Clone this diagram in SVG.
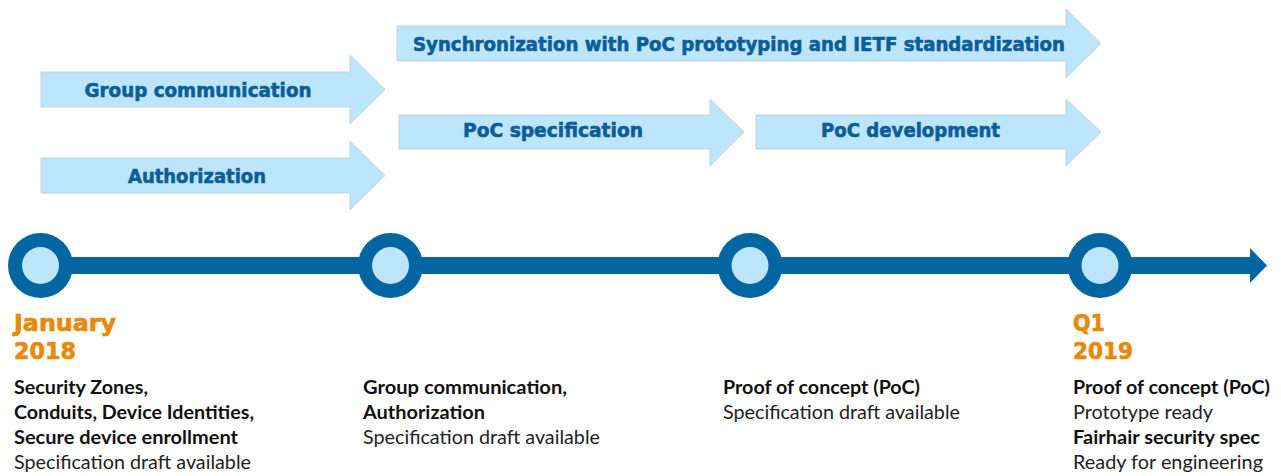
<svg xmlns="http://www.w3.org/2000/svg" width="1281" height="476" viewBox="0 0 1281 476">
<style>
.arr{fill:#bde5fb;stroke:#c3d2dd;stroke-width:1}
.at{font-family:"DejaVu Sans",sans-serif;font-weight:bold;font-size:19px;fill:#0b5e99;stroke:#0b5e99;stroke-width:0.6;text-anchor:middle}
.ring{fill:#0465a3}
.core{fill:#bde5fb}
.date{font-family:"DejaVu Sans",sans-serif;font-weight:bold;font-size:22.5px;fill:#e8890c;stroke:#e8890c;stroke-width:0.7}
.b{font-family:Lato,"Liberation Sans",sans-serif;font-weight:bold;font-size:19px;fill:#111}
.r{font-family:Lato,"Liberation Sans",sans-serif;font-size:19px;fill:#222}
</style>
<rect width="1281" height="476" fill="#fff"/>
<g id="arrow-group-communication">
<path class="arr" d="M41,72H350V55L385,89.5L350,124V107H41Z"/>
<text class="at" x="198" y="97" textLength="227" lengthAdjust="spacingAndGlyphs">Group communication</text>
</g>
<g id="arrow-authorization">
<path class="arr" d="M41,158H350V141L385,175.5L350,210V193H41Z"/>
<text class="at" x="197" y="183" textLength="138" lengthAdjust="spacingAndGlyphs">Authorization</text>
</g>
<g id="arrow-synchronization">
<path class="arr" d="M397,26H1066V9L1101,43.5L1066,78V61H397Z"/>
<text class="at" x="739" y="51" textLength="652" lengthAdjust="spacingAndGlyphs">Synchronization with PoC prototyping and IETF standardization</text>
</g>
<g id="arrow-poc-specification">
<path class="arr" d="M399,115H710V99L744,132L710,166V149H399Z"/>
<text class="at" x="553" y="137" textLength="180" lengthAdjust="spacingAndGlyphs">PoC specification</text>
</g>
<g id="arrow-poc-development">
<path class="arr" d="M756,115H1066V99L1101,132L1066,166V149H756Z"/>
<text class="at" x="910.5" y="137" textLength="179" lengthAdjust="spacingAndGlyphs">PoC development</text>
</g>
<g id="connectors">
<rect x="40" y="257" width="1212" height="17" fill="#0465a3"/>
<path d="M1250,248L1267,265.5L1250,283Z" fill="#0465a3"/>
</g>
<g id="milestone-jan-2018">
<circle class="ring" cx="40.5" cy="265.5" r="32.5"/>
<circle class="core" cx="40.5" cy="265.5" r="18.5"/>
<text class="date" x="14" y="331" textLength="102" lengthAdjust="spacingAndGlyphs">January</text>
<text class="date" x="14" y="359" textLength="62" lengthAdjust="spacingAndGlyphs">2018</text>
<text class="b" x="14" y="394" textLength="134" lengthAdjust="spacingAndGlyphs">Security Zones,</text>
<text class="b" x="14" y="419" textLength="240" lengthAdjust="spacingAndGlyphs">Conduits, Device Identities,</text>
<text class="b" x="14" y="444" textLength="224" lengthAdjust="spacingAndGlyphs">Secure device enrollment</text>
<text class="r" x="14" y="469" textLength="237" lengthAdjust="spacingAndGlyphs">Specification draft available</text>
</g>
<g id="milestone-2">
<circle class="ring" cx="390.5" cy="265.5" r="32.5"/>
<circle class="core" cx="390.5" cy="265.5" r="18.5"/>
<text class="b" x="363" y="394" textLength="204" lengthAdjust="spacingAndGlyphs">Group communication,</text>
<text class="b" x="363" y="419" textLength="122" lengthAdjust="spacingAndGlyphs">Authorization</text>
<text class="r" x="363" y="444" textLength="237" lengthAdjust="spacingAndGlyphs">Specification draft available</text>
</g>
<g id="milestone-3">
<circle class="ring" cx="750" cy="265.5" r="32.5"/>
<circle class="core" cx="750" cy="265.5" r="18.5"/>
<text class="b" x="723" y="394" textLength="197" lengthAdjust="spacingAndGlyphs">Proof of concept (PoC)</text>
<text class="r" x="723" y="419" textLength="237" lengthAdjust="spacingAndGlyphs">Specification draft available</text>
</g>
<g id="milestone-q1-2019">
<circle class="ring" cx="1100" cy="265.5" r="32.5"/>
<circle class="core" cx="1100" cy="265.5" r="18.5"/>
<text class="date" x="1073" y="331" textLength="32" lengthAdjust="spacingAndGlyphs">Q1</text>
<text class="date" x="1073" y="359" textLength="60" lengthAdjust="spacingAndGlyphs">2019</text>
<text class="b" x="1073" y="394" textLength="197" lengthAdjust="spacingAndGlyphs">Proof of concept (PoC)</text>
<text class="r" x="1073" y="419" textLength="140" lengthAdjust="spacingAndGlyphs">Prototype ready</text>
<text class="b" x="1073" y="444" textLength="187" lengthAdjust="spacingAndGlyphs">Fairhair security spec</text>
<text class="r" x="1073" y="469" textLength="190" lengthAdjust="spacingAndGlyphs">Ready for engineering</text>
</g>
</svg>
